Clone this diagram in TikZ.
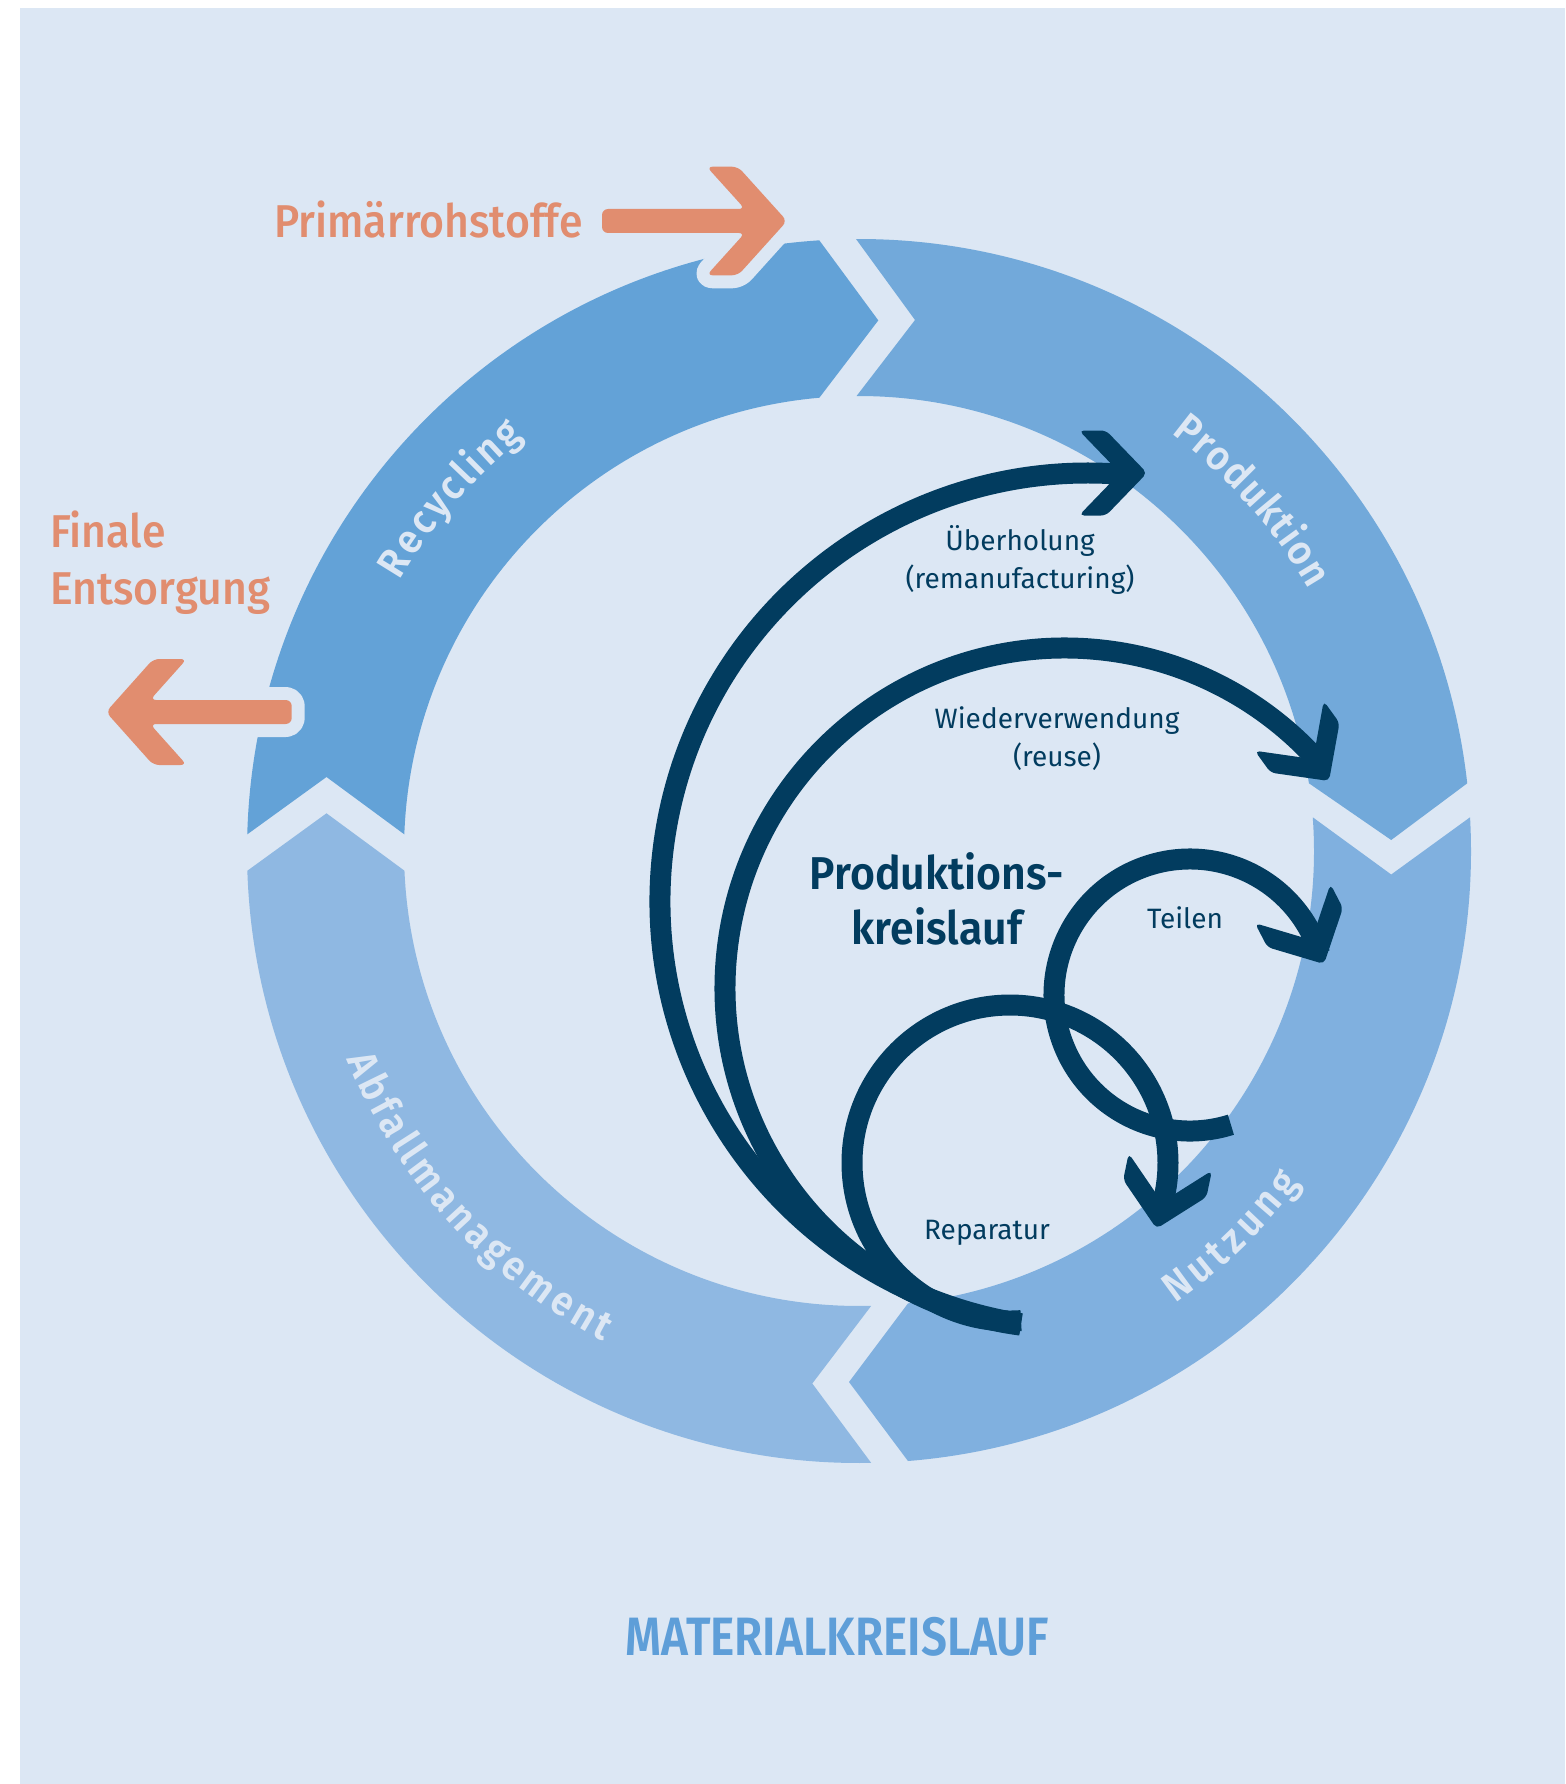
\documentclass[tikz,border=0pt]{standalone}
\usepackage{fontspec}
\usepackage{tikz}
\usetikzlibrary{calc}
\usetikzlibrary{decorations.text}

\newfontfamily\firareg{Fira Sans}
\newfontfamily\firamed{Fira Sans Medium}[FakeStretch=0.93]
\newfontfamily\firasemi{Fira Sans SemiBold}[FakeStretch=0.93]
\newfontfamily\titlefont{Fira Sans SemiBold}[FakeStretch=0.85]

\definecolor{bgcol}{HTML}{DCE7F4}
\definecolor{recycol}{HTML}{63A2D7}
\definecolor{prodcol}{HTML}{72A9DA}
\definecolor{nutzcol}{HTML}{80B0DF}
\definecolor{abfcol}{HTML}{8FB8E2}
\definecolor{navy}{HTML}{023C5F}
\definecolor{orangecol}{HTML}{E18D6F}
\definecolor{titlecol}{HTML}{5E9ED8}

\begin{document}
\begin{tikzpicture}[
x                   = 1pt,
y                   = -1pt,
loop/.style         = {draw=navy, line width=21pt, line cap=butt, line join=round},
outarrow/.style     = {fill=orangecol, rounded corners=6pt, preaction={draw=bgcol, line width=26pt, line join=round}},
orangetext/.style   = {text=orangecol, font=\firamed\fontsize{46}{56.6}\selectfont, inner sep=0pt},
looptext/.style     = {text=navy, font=\firareg\fontsize{28}{38}\selectfont, inner sep=0pt, align=center},
ringtext/.style     = {decorate, decoration={text along path, text align=fit to path, text color=bgcol,
                       text={|\firasemi\fontsize{41}{48}\selectfont|#1}}},
barb/.pic           = {\fill[navy, rounded corners=5pt] (-27,0) -- (-68,-42.5) -- (-41,-42.5) -- (0,0)
                       -- (-41,42.5) -- (-68,42.5) -- cycle;}
]

\fill[white] (0,0) rectangle (1565,1784);
\fill[bgcol] (20,8) rectangle (1565,1784);
\useasboundingbox (0,0) rectangle (1565,1784);

\coordinate (c) at (859,851);

\fill[recycol] ($(c)+(181.56:612)$) arc[start angle=181.56, end angle=266.28, radius=612]
  -- (878.3,320.4) -- ($(c)+(265.0:455)$) arc[start angle=265.0, end angle=182.10, radius=455]
  -- (326.5,777) -- cycle;
\fill[prodcol] ($(c)+(269.72:612)$) arc[start angle=269.72, end angle=353.65, radius=612]
  -- (1391.2,840) -- ($(c)+(351.44:455)$) arc[start angle=351.44, end angle=269.69, radius=455]
  -- (915,320) -- cycle;
\fill[nutzcol] ($(c)+(-3.16:612)$) arc[start angle=-3.16, end angle=85.41, radius=612]
  -- (849,1382) -- ($(c)+(83.82:455)$) arc[start angle=83.82, end angle=-4.25, radius=455]
  -- (1391.2,874.5) -- cycle;
\fill[abfcol] ($(c)+(88.86:612)$) arc[start angle=88.86, end angle=178.15, radius=612]
  -- (326.5,813.3) -- ($(c)+(177.52:455)$) arc[start angle=177.52, end angle=88.46, radius=455]
  -- (812.3,1383.5) -- cycle;

\path[ringtext=Recycling] ($(c)+(210.5:533)$) arc[start angle=210.5, end angle=231, radius=533];
\path[ringtext=Produktion] ($(c)+(306.8:521)$) arc[start angle=306.8, end angle=329.8, radius=521];
\path[ringtext=Nutzung] ($(c)+(55.05:552)$) arc[start angle=55.05, end angle=36.95, radius=552];
\path[ringtext=Abfallmanagement] ($(c)+(157.85:553)$) arc[start angle=157.85, end angle=117.55, radius=553];

\fill[outarrow] (602,209) -- (744.9,209) -- (706.7,166.7) -- (738,166.7) -- (787,221) -- (738,275.3)
  -- (706.7,275.3) -- (744.9,233) -- (602,233) -- cycle;
\fill[outarrow] (291.7,700) -- (150.1,700) -- (186.7,659) -- (153.3,659) -- (106,712) -- (153.3,765)
  -- (186.7,765) -- (150.1,724) -- (291.7,724) -- cycle;

\node[orangetext, anchor=base east] (prim) at (583,237.3) {Primärrohstoffe};
\node[orangetext, anchor=base west, align=left] (fin) at (50,604.3) {Finale\\Entsorgung};

\draw[loop] ($(1088,901)+(99:428)$) arc[start angle=99, end angle=276.4, radius=428];
\pic[rotate=0] at (1147,473) {barb};

\draw[loop] ($(1065,988)+(97.5:340)$) arc[start angle=97.5, end angle=319.5, radius=340];
\pic[rotate=-54.2] at (1329,781) {barb};

\draw[loop] ($(1010,1163)+(86:158)$) arc[start angle=86, end angle=380.3, radius=158];
\pic[rotate=-101.7] at (1156.5,1228.6) {barb};

\draw[loop] ($(1190,995)+(72.5:136)$) arc[start angle=72.5, end angle=342.3, radius=136];
\pic[rotate=-62.6] at (1324,964) {barb};

\node[looptext, anchor=base] (ueber) at (1020,588) {Überholung\\(remanufacturing)};
\node[looptext, anchor=base] (wieder) at (1057,766) {Wiederverwendung\\(reuse)};
\node[looptext, anchor=base] (teilen) at (1185,928.6) {Teilen};
\node[looptext, anchor=base] (rep) at (987,1239) {Reparatur};

\node[text=navy, font=\firasemi\fontsize{46}{55}\selectfont, inner sep=0pt, align=center, anchor=base] (pkl)
  at (937,944) {Produktions-\\kreislauf};

\node[text=titlecol, font=\titlefont\fontsize{54}{60}\selectfont, inner sep=0pt, anchor=base] (mkl)
  at (837.4,1655) {MATERIALKREISLAUF};

\end{tikzpicture}
\end{document}
